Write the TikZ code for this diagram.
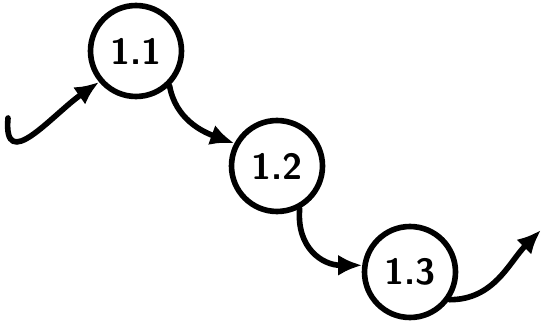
\documentclass[tikz,border=0pt]{standalone}
\usepackage{tikz}
\usetikzlibrary{arrows.meta}

\tikzset{
  bubble/.style={circle, draw, line width=3.2pt, minimum size=1.82cm, inner sep=0pt, font=\huge\sffamily\bfseries},
  flow/.style={->, line width=3.2pt, line cap=round}
}

\begin{document}
\begin{tikzpicture}[x=0.02cm, y=0.02cm, >={Latex[length=0.48cm, width=0.42cm]}]
\useasboundingbox (0,0) rectangle (543,324);

% Define the three states
\node[bubble] (n11) at (136,273) {1.1};
\node[bubble] (n12) at (277,158) {1.2};
\node[bubble] (n13) at (410,52) {1.3};

% Free ends of the chain
\coordinate (start) at (8,206);
\coordinate (finish) at (541,94);

% Transitions
\draw[flow] (start) to[out=-95, in=215, looseness=1.5] (n11.220);
\draw[flow] (n11.-46) to[out=-80, in=160] (n12.152);
\draw[flow] (n12.-62) to[out=-95, in=180, looseness=1.2] (n13.172);
\draw[flow] (n13.-35) to[out=0, in=225] (finish);
\end{tikzpicture}
\end{document}
